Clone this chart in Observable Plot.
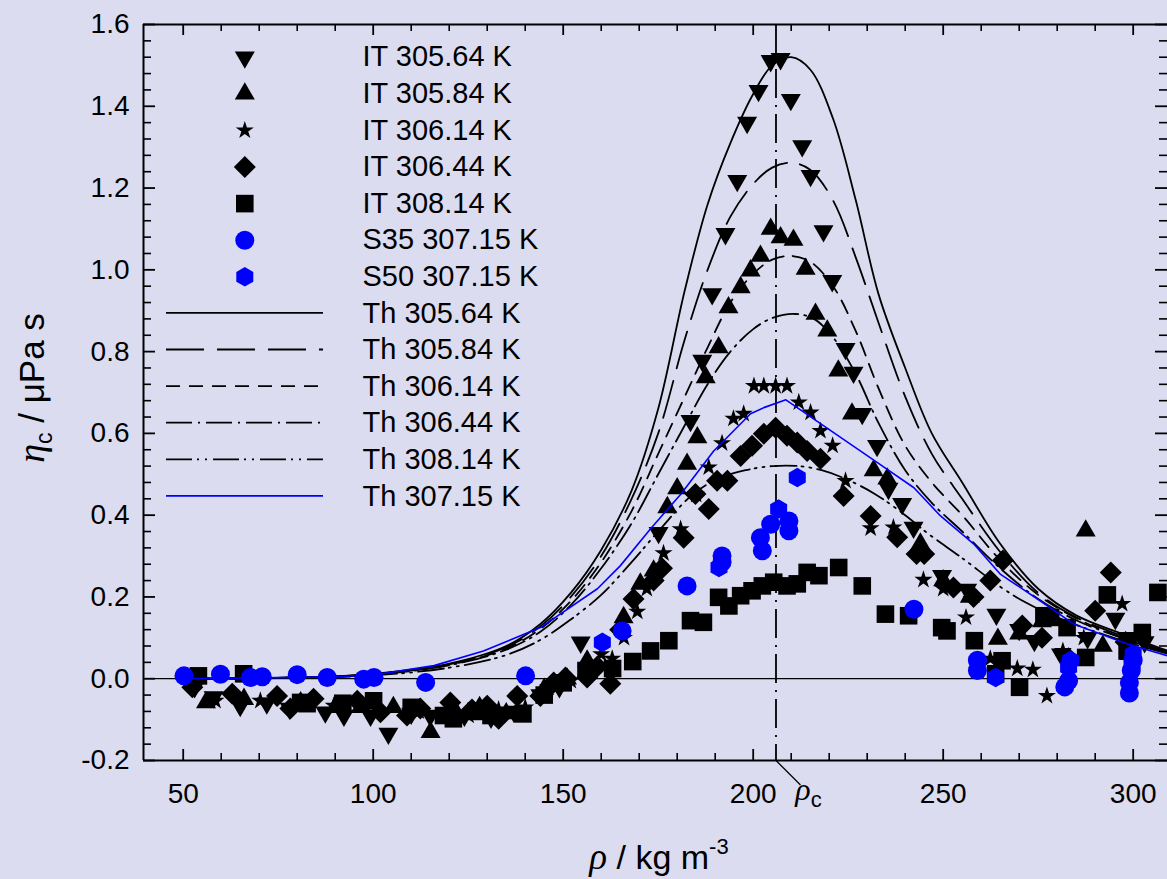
<!DOCTYPE html>
<html>
<head>
<meta charset="utf-8">
<script src="https://cdn.jsdelivr.net/npm/d3@7"></script>
<script src="https://cdn.jsdelivr.net/npm/@observablehq/plot@0.6"></script>
<style>
html, body { margin: 0; padding: 0; background: #dcdcf0; overflow: hidden; }
</style>
</head>
<body>
<div id="chart"></div>
<script>
// ---------------- DATA ----------------
const rhoC = 206;

const xMajor = [50, 100, 150, 200, 250, 300];
const xTickLabels = ["50", "100", "150", "200", "250", "300"];
const xMinor = [60, 70, 80, 90, 110, 120, 130, 140, 160, 170, 180, 190, 210, 220, 230, 240, 260, 270, 280, 290];
const yMajor = [-0.2, 0, 0.2, 0.4, 0.6, 0.8, 1.0, 1.2, 1.4, 1.6];
const yTickLabels = ["-0.2", "0.0", "0.2", "0.4", "0.6", "0.8", "1.0", "1.2", "1.4", "1.6"];
const yMinor = [-0.16, -0.12, -0.08, -0.04, 0.04, 0.08, 0.12, 0.16, 0.24, 0.28, 0.32, 0.36,
  0.44, 0.48, 0.52, 0.56, 0.64, 0.68, 0.72, 0.76, 0.84, 0.88, 0.92, 0.96,
  1.04, 1.08, 1.12, 1.16, 1.24, 1.28, 1.32, 1.36, 1.44, 1.48, 1.52, 1.56];

const legendLabels = ["IT 305.64 K", "IT 305.84 K", "IT 306.14 K", "IT 306.44 K", "IT 308.14 K",
  "S35 307.15 K", "S50 307.15 K", "Th 305.64 K", "Th 305.84 K", "Th 306.14 K", "Th 306.44 K",
  "Th 308.14 K", "Th 307.15 K"];

// experimental points [rho, eta_c]
const it30564 = [[53,-0.02],[58,-0.045],[65,-0.066],[72,-0.06],[78,-0.073],[87.4,-0.082],[92.3,-0.09],[99.3,-0.09],[104,-0.134],[110,-0.085],[115,-0.09],[124,-0.09],[131,-0.095],[137,-0.08],[144,-0.04],[149,-0.02],
  [154.6,0.089],[175.1,0.357],[183.5,0.631],[186.6,0.778],[189.2,0.941],[192.7,1.088],[195.8,1.218],[198.4,1.36],[201.4,1.438],[204.6,1.511],[207.2,1.516],[209.9,1.416],[212.9,1.303],[215.1,1.23],[218.5,1.095],[220.8,0.973],[224.3,0.807],[226.4,0.749],[228.7,0.648],[232.6,0.57],[235.6,0.465],[239.2,0.428],[242.2,0.37],
  [249.7,0.252],[256.3,0.218],[264,0.157],[270,0.12],[274,0.093],[281,0.06],[288,0.1],[295.3,0.147],[298.4,0.1],[303,0.09]];
const it30584 = [[56,-0.058],[66,-0.05],[80.9,-0.058],[90,-0.07],[96.7,-0.07],[105.3,-0.07],[115.1,-0.131],[122,-0.085],[128,-0.07],[135,-0.085],[145,-0.025],[151,0.0],[156.3,0.044],
  [165.9,0.15],[170.3,0.232],[173.8,0.264],[177.4,0.419],[180,0.465],[182.6,0.525],[185.3,0.59],[187.5,0.737],[190.9,0.81],[193.5,0.908],[196.7,0.957],[199.3,0.998],[201.9,1.034],[204.6,1.1],[207.2,1.079],[210.6,1.073],[213.8,1.002],[216.4,0.892],[219.5,0.851],[222.4,0.753],[226,0.648],[231.7,0.509],[235.3,0.489],
  [244,0.33],[250,0.24],[257,0.2],[264.4,0.097],[270,0.11],[276,0.14],[287.5,0.362],[292,0.08],[299,0.06]];
const it30614 = [[58.5,-0.054],[70.3,-0.054],[80,-0.06],[89.6,-0.066],[100,-0.06],[112,-0.08],[125.1,-0.09],[133,-0.075],[140,-0.07],[146,-0.02],[152,-0.005],[157,0.02],[160,0.06],
  [162.9,0.049],[166,0.1],[169.5,0.164],[172,0.22],[176.4,0.307],[180.9,0.366],[185,0.45],[188.3,0.517],[191.8,0.576],[194.8,0.636],[197.5,0.648],[200.2,0.716],[202.8,0.716],[205.9,0.716],[208.9,0.716],[212,0.676],[215.1,0.651],[217.7,0.606],[220.9,0.57],[224.3,0.484],[230.9,0.368],[236.9,0.37],[244.8,0.242],
  [250,0.22],[256,0.15],[262.4,0.049],[269.5,0.025],[273.6,0.022],[277.3,-0.042],[281.5,0.068],[287,0.1],[297.1,0.183],[301,0.1]];
const it30644 = [[52.4,-0.021],[62.9,-0.037],[74.7,-0.042],[78.2,-0.073],[84.3,-0.049],[95.8,-0.054],[101.9,-0.082],[108.9,-0.09],[112.4,-0.073],[120.3,-0.058],[126,-0.075],[130,-0.066],[133,-0.098],[137.9,-0.042],[144,-0.042],[147.5,-0.009],[150.6,0.003],[156.3,0.003],[162.4,-0.012],
  [159,0.03],[165,0.12],[168.5,0.195],[173.8,0.24],[176,0.27],[181.7,0.345],[184.8,0.452],[188.3,0.415],[190.5,0.484],[193.2,0.484],[196.7,0.545],[199.7,0.57],[202.8,0.599],[205.9,0.614],[208.9,0.594],[211.6,0.578],[214.2,0.557],[217.7,0.538],[223.8,0.447],[230.9,0.398],[237.9,0.346],[243,0.305],[245,0.305],
  [252.7,0.223],[258,0.2],[262.4,0.24],[265.7,0.289],[270.8,0.13],[276,0.1],[283,0.05],[290,0.166],[294.1,0.26],[298,0.09]];
const it30814 = [[54,0.007],[65.9,0.012],[80.9,-0.058],[82.6,-0.061],[92,-0.06],[100.1,-0.054],[110,-0.07],[118.5,-0.09],[121.1,-0.098],[127,-0.08],[131,-0.09],[139.4,-0.086],[145,-0.04],[150,-0.01],[156,0.02],
  [163,0.025],[168.3,0.042],[173,0.068],[177.8,0.093],[183.5,0.142],[186.9,0.138],[190.9,0.199],[193.6,0.178],[196.7,0.203],[199.7,0.215],[202.4,0.227],[205.4,0.236],[208.9,0.227],[211.6,0.232],[214.2,0.26],[217.3,0.252],[222.5,0.272],[228.7,0.227],[234.8,0.158],[240.9,0.154],
  [249.6,0.125],[251,0.117],[258.2,0.093],[263.8,0.012],[265.5,0.044],[270.1,-0.021],[276.5,0.154],[278.3,0.15],[282.6,0.125],[287.5,0.052],[293.2,0.205],[298.4,0.068],[302.4,0.113],[306.5,0.211]];
const s35 = [[50.2,0.007],[59.8,0.011],[67.7,0.003],[70.8,0.005],[80,0.01],[87.9,0.003],[97.5,-0.001],[100.2,0.003],[113.8,-0.009],[140.1,0.007],
  [165.5,0.117],[182.6,0.227],[191.8,0.3],[191.8,0.285],[201.9,0.345],[202.4,0.313],[204.6,0.378],[209.4,0.386],[209.4,0.362],[242.3,0.17],
  [259,0.045],[259,0.02],[282,-0.02],[283,-0.005],[299,-0.035],[299,-0.01],[299.5,0.02],[300,0.045]];
const s50 = [[160.3,0.089],[191,0.272],[206.7,0.415],[211.6,0.492],[263.8,0.003],[283,0.028],[283.5,0.045],[299.7,0.036],[300,0.06]];

// theory curves [rho, eta_c]
const th30564 = [[50,0],[80,0.003],[100,0.012],[120,0.037],[135,0.08],[144,0.134],[152,0.21],[160,0.315],[168,0.46],[175,0.66],[182,0.95],[188,1.16],[194,1.31],[200,1.43],[205,1.5],[210,1.52],[215,1.49],[221,1.37],[227,1.17],[233,0.94],[240,0.76],[247,0.6],[255,0.48],[265,0.33],[275,0.22],[285,0.155],[297,0.11],[309.5,0.067]];
const th30584 = [[50,0],[80,0.003],[100,0.011],[120,0.035],[135,0.077],[144,0.128],[152,0.2],[160,0.3],[168,0.44],[175,0.6],[182,0.83],[188,1.0],[194,1.13],[200,1.21],[205,1.25],[210,1.262],[215,1.245],[221,1.17],[227,1.03],[233,0.87],[240,0.69],[247,0.55],[255,0.44],[265,0.31],[275,0.21],[285,0.15],[297,0.105],[309.5,0.065]];
const th30614 = [[50,0],[80,0.003],[100,0.011],[120,0.034],[135,0.074],[144,0.122],[152,0.19],[160,0.285],[168,0.41],[175,0.55],[182,0.69],[188,0.81],[194,0.92],[200,0.99],[205,1.025],[210,1.034],[215,1.02],[221,0.96],[227,0.85],[233,0.71],[240,0.57],[247,0.48],[255,0.4],[265,0.29],[275,0.205],[285,0.148],[297,0.1],[309.5,0.063]];
const th30644 = [[50,0],[80,0.003],[100,0.01],[120,0.033],[135,0.071],[144,0.115],[152,0.18],[160,0.27],[168,0.38],[175,0.5],[182,0.62],[188,0.72],[194,0.8],[200,0.855],[205,0.882],[211,0.892],[216,0.88],[221,0.835],[227,0.745],[233,0.625],[240,0.51],[247,0.43],[255,0.36],[265,0.27],[275,0.195],[285,0.143],[297,0.1],[309.5,0.062]];
const th30814 = [[50,0],[80,0.002],[100,0.008],[120,0.027],[135,0.058],[144,0.095],[152,0.145],[160,0.205],[168,0.285],[175,0.36],[184,0.45],[191,0.49],[198,0.51],[205,0.52],[212,0.52],[218,0.51],[224,0.49],[232,0.452],[240,0.4],[246,0.355],[255,0.295],[265,0.225],[272,0.185],[280,0.15],[290,0.115],[300,0.085],[309.5,0.06]];
const th30715 = [[50,0],[70,0.002],[90,0.005],[100,0.009],[116,0.032],[129,0.068],[144,0.125],[159,0.22],[165,0.276],[173,0.367],[181,0.452],[189.6,0.557],[199.3,0.648],[202.8,0.663],[208.6,0.682],[232.6,0.529],[242.3,0.467],[249.3,0.398],[258,0.33],[265,0.256],[275.6,0.19],[284.3,0.134],[298.5,0.085],[309.5,0.055]];

// ---------------- SYMBOLS ----------------
const SQ3 = Math.sqrt(3);
const rad = size => Math.sqrt(size / Math.PI);
const symTriDown = {draw(c, size) { const a = rad(size), h = a * SQ3; c.moveTo(-a, -h / 3); c.lineTo(a, -h / 3); c.lineTo(0, 2 * h / 3); c.closePath(); }};
const symTriUp = {draw(c, size) { const a = rad(size), h = a * SQ3; c.moveTo(-a, h / 3); c.lineTo(a, h / 3); c.lineTo(0, -2 * h / 3); c.closePath(); }};
const symStar = {draw(c, size) {
  const R = rad(size) * 0.95, ri = R * 0.382;
  for (let i = 0; i < 10; i++) {
    const rr = i % 2 ? ri : R, ang = -Math.PI / 2 + i * Math.PI / 5;
    const px = rr * Math.cos(ang), py = rr * Math.sin(ang);
    if (i) c.lineTo(px, py); else c.moveTo(px, py);
  }
  c.closePath();
}};
const symDiamond = {draw(c, size) { const d = rad(size) * 1.1; c.moveTo(0, -d); c.lineTo(d, 0); c.lineTo(0, d); c.lineTo(-d, 0); c.closePath(); }};
const symSquare = {draw(c, size) { const s = rad(size) * 0.88; c.moveTo(-s, -s); c.lineTo(s, -s); c.lineTo(s, s); c.lineTo(-s, s); c.closePath(); }};
const symCircle = {draw(c, size) { const r = rad(size) * 0.95; c.moveTo(r, 0); c.arc(0, 0, r, 0, 2 * Math.PI); }};
const symHex = {draw(c, size) { const rx = rad(size) * 0.85, ry = rx * 2 / SQ3, hy = ry / 2; c.moveTo(0, -ry); c.lineTo(rx, -hy); c.lineTo(rx, hy); c.lineTo(0, ry); c.lineTo(-rx, hy); c.lineTo(-rx, -hy); c.closePath(); }};

const BLUE = "#0000ff";
const pointSeries = [
  {data: it30564, symbol: symTriDown, color: "black"},
  {data: it30584, symbol: symTriUp, color: "black"},
  {data: it30614, symbol: symStar, color: "black"},
  {data: it30644, symbol: symDiamond, color: "black"},
  {data: it30814, symbol: symSquare, color: "black"},
  {data: s35, symbol: symCircle, color: BLUE},
  {data: s50, symbol: symHex, color: BLUE}
];
const lineSeries = [
  {data: th30564, dash: null, color: "black", width: 1.8, curve: "catmull-rom"},
  {data: th30584, dash: "38,13", color: "black", width: 1.8, curve: "catmull-rom"},
  {data: th30614, dash: "14,9", color: "black", width: 1.8, curve: "catmull-rom"},
  {data: th30644, dash: "26,6,2,6", color: "black", width: 1.8, curve: "catmull-rom"},
  {data: th30814, dash: "26,5,2,6,2,6", color: "black", width: 1.8, curve: "catmull-rom"},
  {data: th30715, dash: null, color: BLUE, width: 1.6, curve: "linear"}
];

// ---------------- LAYOUT ----------------
const W = 1167, H = 879;
const mL = 143, mR = 0, mT = 24, mB = 119;
const frameW = W - mL - mR, frameH = H - mT - mB;
const FONT = "'Liberation Sans', Arial, Helvetica, sans-serif";
const SERIF = "'Liberation Serif', 'Times New Roman', serif";
const rowY = i => 56.7 + 36.6 * i;   // legend row centre (px)

function decorations(index, scales, values, dims) {
  const g = d3.create("svg:g");
  // legend lines
  lineSeries.forEach((s, i) => {
    const y = rowY(7 + i);
    g.append("line").attr("x1", 166).attr("x2", 323).attr("y1", y).attr("y2", y)
      .attr("stroke", s.color).attr("stroke-width", s.width)
      .attr("stroke-dasharray", s.dash);
  });
  // rho_c leader + label
  const xr = scales.x(rhoC);
  const yb = dims.height - dims.marginBottom;
  g.append("line").attr("x1", xr).attr("y1", yb).attr("x2", xr + 25).attr("y2", yb + 25)
    .attr("stroke", "black").attr("stroke-width", 1.3);
  const t1 = g.append("text").attr("x", xr + 33).attr("y", yb + 40).attr("fill", "black");
  t1.append("tspan").attr("font-family", SERIF).attr("font-style", "italic").attr("font-size", 32).text("ρ");
  t1.append("tspan").attr("font-family", FONT).attr("font-size", 22).attr("dy", 7).text("c");
  // x title
  const cx = dims.marginLeft + (dims.width - dims.marginLeft - dims.marginRight) / 2;
  const tx = g.append("text").attr("x", cx + 4).attr("y", H - 10).attr("text-anchor", "middle").attr("fill", "black")
    .attr("font-family", FONT).attr("font-size", 34);
  tx.append("tspan").attr("font-family", SERIF).attr("font-style", "italic").attr("font-size", 37).text("ρ");
  tx.append("tspan").text(" / kg m");
  tx.append("tspan").attr("font-size", 22).attr("dy", -15).text("-3");
  // y title
  const cy = dims.marginTop + (dims.height - dims.marginTop - dims.marginBottom) / 2;
  const ty = g.append("text").attr("transform", `translate(44,${cy - 4}) rotate(-90)`).attr("text-anchor", "middle")
    .attr("fill", "black").attr("font-family", FONT).attr("font-size", 35);
  ty.append("tspan").attr("font-family", SERIF).attr("font-style", "italic").attr("font-size", 38).text("η");
  ty.append("tspan").attr("font-size", 23).attr("dy", 8).text("c");
  ty.append("tspan").attr("dy", -8).text(" / μPa s");
  return g.node();
}

const marks = [];
// zero line & rho_c line
marks.push(Plot.ruleY([0], {stroke: "black", strokeWidth: 1.3}));
marks.push(Plot.ruleX([rhoC], {stroke: "black", strokeWidth: 1.8, strokeDasharray: "29,7,2,7"}));
// black theory curves
lineSeries.slice(0, 5).forEach(s => marks.push(Plot.line(s.data, {x: d => d[0], y: d => d[1], stroke: s.color, strokeWidth: s.width, strokeDasharray: s.dash, curve: s.curve, clip: true})));
// points
pointSeries.forEach(s => marks.push(Plot.dot(s.data, {x: d => d[0], y: d => d[1], symbol: s.symbol, r: 10, fill: s.color, stroke: "none", clip: true})));
// blue theory line on top
lineSeries.slice(5).forEach(s => marks.push(Plot.line(s.data, {x: d => d[0], y: d => d[1], stroke: s.color, strokeWidth: s.width, curve: s.curve, clip: true})));
// frame (left, top, bottom)
marks.push(Plot.ruleX([39.55], {stroke: "black", strokeWidth: 2}));
marks.push(Plot.ruleY([-0.2, 1.6], {stroke: "black", strokeWidth: 2}));
// inward ticks
marks.push(Plot.ruleX(xMajor, {insetTop: frameH - 11, stroke: "black", strokeWidth: 1.8}));
marks.push(Plot.ruleX(xMinor, {insetTop: frameH - 7, stroke: "black", strokeWidth: 1.6}));
marks.push(Plot.ruleX(xMajor, {insetBottom: frameH - 11, stroke: "black", strokeWidth: 1.8}));
marks.push(Plot.ruleX(xMinor, {insetBottom: frameH - 7, stroke: "black", strokeWidth: 1.6}));
marks.push(Plot.ruleY(yMajor, {insetRight: frameW - 12, stroke: "black", strokeWidth: 1.8}));
marks.push(Plot.ruleY(yMinor, {insetRight: frameW - 8, stroke: "black", strokeWidth: 1.6}));
marks.push(Plot.ruleY(yMajor, {insetLeft: frameW - 12, stroke: "black", strokeWidth: 1.8}));
marks.push(Plot.ruleY(yMinor, {insetLeft: frameW - 8, stroke: "black", strokeWidth: 1.6}));
// tick labels
marks.push(Plot.axisX(xMajor, {anchor: "bottom", tickSize: 0, tickPadding: 23, label: null,
  tickFormat: d => xTickLabels[xMajor.indexOf(d)], fontSize: 28, fontFamily: FONT}));
marks.push(Plot.axisY(yMajor, {anchor: "left", tickSize: 0, tickPadding: 14, label: null,
  tickFormat: d => yTickLabels[yMajor.indexOf(d)], fontSize: 28, fontFamily: FONT}));
// legend symbols + texts
pointSeries.forEach((s, i) => marks.push(Plot.dot([i], {frameAnchor: "top-left", dx: 244.3 - mL, dy: rowY(i) - mT,
  symbol: s.symbol, r: 10, fill: s.color, stroke: "none"})));
legendLabels.forEach((lab, i) => marks.push(Plot.text([lab], {frameAnchor: "top-left", dx: 362 - mL, dy: rowY(i) - mT,
  text: d => d, textAnchor: "start", lineAnchor: "middle", fontSize: 29, fontFamily: FONT, fill: "black"})));
marks.push(decorations);

const chart = Plot.plot({
  width: W, height: H,
  marginLeft: mL, marginRight: mR, marginTop: mT, marginBottom: mB,
  style: {background: "#dcdcf0", color: "black", fontFamily: FONT},
  x: {domain: [39.55, 309.03], axis: null},
  y: {domain: [-0.2, 1.6], axis: null},
  marks
});
document.getElementById("chart").appendChild(chart);
</script>
</body>
</html>
